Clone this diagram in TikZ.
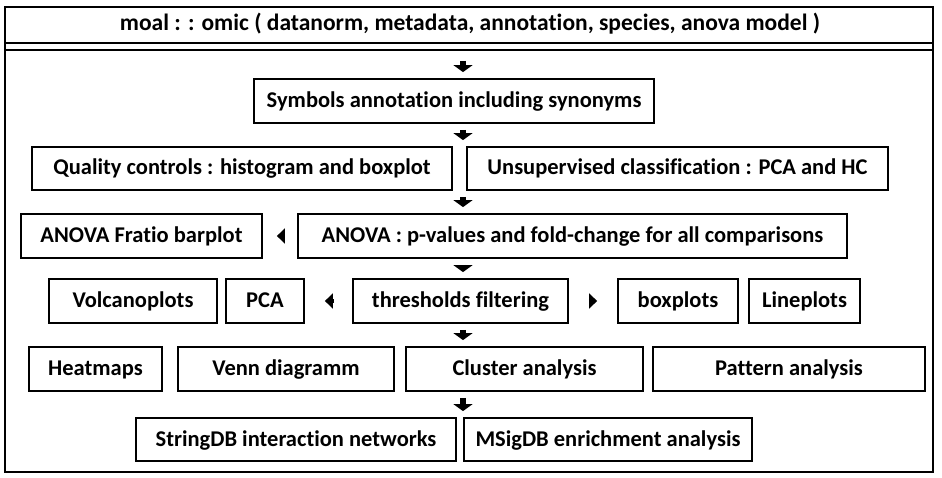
\documentclass[tikz,border=0pt]{standalone}
\usepackage{fontspec}
\setmainfont{Carlito}[Ligatures=NoCommon]
\usetikzlibrary{arrows.meta}

\tikzset{
  box/.style={draw, line width=1.8pt, inner sep=0pt, minimum height=44pt,
    text height=15pt, text depth=2pt,
    font=\bfseries\fontsize{22.5}{26}\selectfont},
  hdr/.style={inner sep=0pt, text height=15pt, text depth=2pt,
    font=\bfseries\fontsize{23.5}{27}\selectfont},
  darr/.style={line width=6pt, -{Triangle[width=19pt,length=7pt]}, shorten <=6pt, shorten >=6pt},
  harr/.style={line width=4pt, -{Triangle[width=15pt,length=8pt]}}
}

\begin{document}
\begin{tikzpicture}[x=1pt,y=-1pt]
\useasboundingbox (0,0) rectangle (942,478);
% frame and header
\draw[line width=2.5pt] (5,7) rectangle (933,472);
\draw[line width=2pt] (5,43) -- (933,43);
\draw[line width=2pt] (5,50) -- (933,50);
\node[hdr] (hd) at (470,24) {moal : : omic ( datanorm, metadata, annotation, species, anova model )};
\coordinate (hdb) at (469,50);
\coordinate (ax) at (463,0);
% boxes
\node[box, minimum width=400pt] (sym) at (454,101) {Symbols annotation including synonyms};
\node[box, minimum width=420pt, minimum height=43pt] (qc) at (242,168.5) {Quality controls : histogram and boxplot};
\node[box, minimum width=421pt, minimum height=43pt] (uns) at (677.5,168.5) {Unsupervised classification : PCA and HC};
\node[box, minimum width=241pt] (fr) at (141.5,236) {ANOVA Fratio barplot};
\node[box, minimum width=549pt] (anova) at (572.5,236) {ANOVA : p-values and fold-change for all comparisons};
\node[box, minimum width=168pt] (volc) at (133,301) {Volcanoplots};
\node[box, minimum width=78pt] (pca) at (265,301) {PCA};
\node[box, minimum width=215pt] (thr) at (460.5,301) {thresholds filtering};
\node[box, minimum width=120pt] (boxp) at (678,301) {boxplots};
\node[box, minimum width=111pt] (linep) at (804.5,301) {Lineplots};
\node[box, minimum width=133pt] (heat) at (95.5,369) {Heatmaps};
\node[box, minimum width=216pt] (venn) at (286,369) {Venn diagramm};
\node[box, minimum width=237pt] (clu) at (524.5,369) {Cluster analysis};
\node[box, minimum width=272pt] (pat) at (789,369) {Pattern analysis};
\node[box, minimum width=320pt, minimum height=43pt] (sdb) at (296,439.5) {StringDB interaction networks};
\node[box, minimum width=288pt, minimum height=43pt] (msig) at (608,439.5) {MSigDB enrichment analysis};
% arrows
\draw[darr, shorten <=11pt] (hdb -| ax) -- (sym.north -| ax);
\foreach \a/\b in {sym/qc, qc/anova, anova/thr, thr/clu, clu/sdb}
  \draw[darr] (\a.south -| ax) -- (\b.north -| ax);
\draw[harr, shorten <=14pt, shorten >=14pt] (anova.west) -- (fr.east);
\draw[harr, shorten <=18pt, shorten >=20pt] (thr.west) -- (pca.east);
\draw[harr, shorten <=20pt, shorten >=20pt] (thr.east) -- (boxp.west);
\end{tikzpicture}
\end{document}
